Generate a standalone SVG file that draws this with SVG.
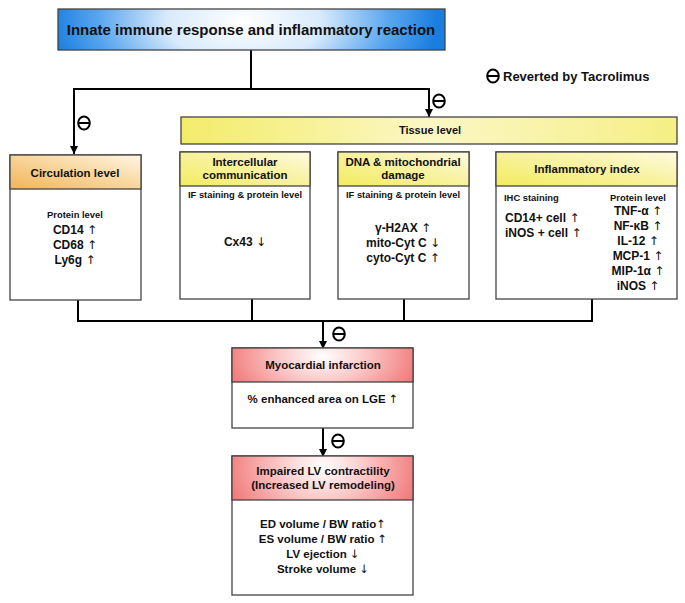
<svg xmlns="http://www.w3.org/2000/svg" width="685" height="603" viewBox="0 0 685 603">
<defs>
<radialGradient id="gBlue" cx="0.48" cy="0.3" r="0.5" gradientTransform="translate(0.48 0.3) scale(1 5) translate(-0.48 -0.3)">
<stop offset="0" stop-color="#ffffff"/><stop offset="0.4" stop-color="#d8eafc"/><stop offset="0.75" stop-color="#5aa6ef"/><stop offset="1" stop-color="#1a7ee0"/>
</radialGradient>
<linearGradient id="gOrange" x1="0" y1="1" x2="1" y2="0">
<stop offset="0" stop-color="#f2b45a"/><stop offset="0.6" stop-color="#f9dca8"/><stop offset="1" stop-color="#fff6e6"/>
</linearGradient>
<linearGradient id="gYellow" x1="0" y1="1" x2="1" y2="0">
<stop offset="0" stop-color="#f3ec5e"/><stop offset="0.6" stop-color="#f8f3a8"/><stop offset="1" stop-color="#fffbe0"/>
</linearGradient>
<linearGradient id="gTissue" x1="0" y1="0" x2="1" y2="0">
<stop offset="0" stop-color="#f3ec6a"/><stop offset="0.5" stop-color="#fbf7c4"/><stop offset="1" stop-color="#f5ef86"/>
</linearGradient>
<radialGradient id="gRed" cx="0.5" cy="0.25" r="0.6" gradientTransform="translate(0.5 0.25) scale(1 3) translate(-0.5 -0.25)">
<stop offset="0" stop-color="#ffffff"/><stop offset="0.4" stop-color="#fbc8c8"/><stop offset="1" stop-color="#f06a6a"/>
</radialGradient>
<marker id="arr" viewBox="0 0 10 10" refX="10" refY="5" markerWidth="4" markerHeight="4" orient="auto" markerUnits="strokeWidth">
<path d="M0,0 L10,5 L0,10 z" fill="#000"/>
</marker>
<g id="minus">
<ellipse cx="0" cy="0" rx="5.8" ry="6.6" fill="none" stroke="#000" stroke-width="2"/>
<line x1="-5.8" y1="0" x2="5.8" y2="0" stroke="#000" stroke-width="2"/>
</g>
</defs>
<style>
text{font-family:"Liberation Sans",Arial,sans-serif;font-weight:bold;fill:#111;text-anchor:middle}
.a{font-family:"DejaVu Sans",sans-serif;font-weight:normal;fill:#111}
.box{stroke:#444;stroke-width:1.3;fill:#fff}
.hdr{stroke:#444;stroke-width:1.3}
.conn{stroke:#000;stroke-width:2;fill:none}
.t15{font-size:15px}
.t13{font-size:13px}
.t12{font-size:12px}
.t11{font-size:11.5px}
.t10{font-size:11px}
.t9{font-size:9.4px}
.l{text-anchor:start}
</style>

<g id="connectors">
<polyline class="conn" points="251,50 251,89"/>
<polyline class="conn" points="74,89 429,89 429,117" marker-end="url(#arr)"/>
<line class="conn" x1="74" y1="88" x2="74" y2="154" marker-end="url(#arr)"/>
<polyline class="conn" points="78,300 78,321 592,321 592,299"/>
<line class="conn" x1="252" y1="299" x2="252" y2="321"/>
<line class="conn" x1="404" y1="299" x2="404" y2="321"/>
<line class="conn" x1="323" y1="321" x2="323" y2="349" marker-end="url(#arr)"/>
<line class="conn" x1="323" y1="428" x2="323" y2="457" marker-end="url(#arr)"/>
<use href="#minus" x="84" y="123"/>
<use href="#minus" x="439" y="101"/>
<use href="#minus" x="339" y="334"/>
<use href="#minus" x="338" y="441"/>
</g>

<g id="legend">
<use href="#minus" x="493" y="76"/>
<text class="t13 l" x="503" y="81">Reverted by Tacrolimus</text>
</g>

<g id="innate">
<rect class="hdr" x="58" y="9" width="387" height="41" fill="url(#gBlue)"/>
<text class="t15" x="251" y="35">Innate immune response and inflammatory reaction</text>
</g>

<g id="tissue">
<rect class="hdr" x="181" y="117" width="496" height="27" fill="url(#gTissue)"/>
<text class="t10" x="430" y="134">Tissue level</text>
</g>

<g id="circulation">
<rect class="box" x="10" y="155" width="131" height="145"/>
<rect class="hdr" x="10" y="155" width="131" height="34" fill="url(#gOrange)"/>
<text class="t11" x="75" y="177">Circulation level</text>
<text class="t9" x="75" y="218">Protein level</text>
<text class="t12" x="75" y="234">CD14 <tspan class="a">↑</tspan></text>
<text class="t12" x="75" y="249">CD68 <tspan class="a">↑</tspan></text>
<text class="t12" x="75" y="264">Ly6g <tspan class="a">↑</tspan></text>
</g>

<g id="intercellular">
<rect class="box" x="180" y="152" width="130" height="147"/>
<rect class="hdr" x="180" y="152" width="130" height="34" fill="url(#gYellow)"/>
<text class="t11" x="245" y="166">Intercellular</text>
<text class="t11" x="245" y="179">communication</text>
<text class="t9" x="245" y="198">IF staining &amp; protein level</text>
<text class="t12" x="245" y="246">Cx43 <tspan class="a">↓</tspan></text>
</g>

<g id="dna">
<rect class="box" x="338" y="152" width="131" height="147"/>
<rect class="hdr" x="338" y="152" width="131" height="34" fill="url(#gYellow)"/>
<text class="t11" x="403" y="166">DNA &amp; mitochondrial</text>
<text class="t11" x="403" y="179">damage</text>
<text class="t9" x="403" y="198">IF staining &amp; protein level</text>
<text class="t12" x="403" y="232">γ-H2AX <tspan class="a">↑</tspan></text>
<text class="t12" x="403" y="247">mito-Cyt C <tspan class="a">↓</tspan></text>
<text class="t12" x="403" y="262">cyto-Cyt C <tspan class="a">↑</tspan></text>
</g>

<g id="inflammatory">
<rect class="box" x="496" y="152" width="181" height="147"/>
<rect class="hdr" x="496" y="152" width="181" height="34" fill="url(#gYellow)"/>
<text class="t11" x="587" y="173">Inflammatory index</text>
<text class="t9 l" x="504" y="201">IHC staining</text>
<text class="t9" x="638" y="201">Protein level</text>
<text class="t12 l" x="505" y="222">CD14+ cell <tspan class="a">↑</tspan></text>
<text class="t12 l" x="505" y="237">iNOS + cell <tspan class="a">↑</tspan></text>
<text class="t12" x="638" y="215">TNF-α <tspan class="a">↑</tspan></text>
<text class="t12" x="638" y="230">NF-κB <tspan class="a">↑</tspan></text>
<text class="t12" x="638" y="245">IL-12 <tspan class="a">↑</tspan></text>
<text class="t12" x="638" y="260">MCP-1 <tspan class="a">↑</tspan></text>
<text class="t12" x="638" y="275">MIP-1α <tspan class="a">↑</tspan></text>
<text class="t12" x="638" y="290">iNOS <tspan class="a">↑</tspan></text>
</g>

<g id="mi">
<rect class="box" x="232" y="348" width="181" height="80"/>
<rect class="hdr" x="232" y="348" width="181" height="34" fill="url(#gRed)"/>
<text class="t11" x="323" y="369">Myocardial infarction</text>
<text class="t11" x="323" y="403">% enhanced area on LGE <tspan class="a">↑</tspan></text>
</g>

<g id="lv">
<rect class="box" x="232" y="456" width="181" height="139"/>
<rect class="hdr" x="232" y="456" width="181" height="44" fill="url(#gRed)"/>
<text class="t11" x="323" y="475">Impaired LV contractility</text>
<text class="t11" x="323" y="489">(Increased LV remodeling)</text>
<text class="t11" x="323" y="528">ED volume / BW ratio<tspan class="a">↑</tspan></text>
<text class="t11" x="323" y="543">ES volume  / BW ratio <tspan class="a">↑</tspan></text>
<text class="t11" x="323" y="558">LV ejection <tspan class="a">↓</tspan></text>
<text class="t11" x="323" y="573">Stroke volume <tspan class="a">↓</tspan></text>
</g>
</svg>
